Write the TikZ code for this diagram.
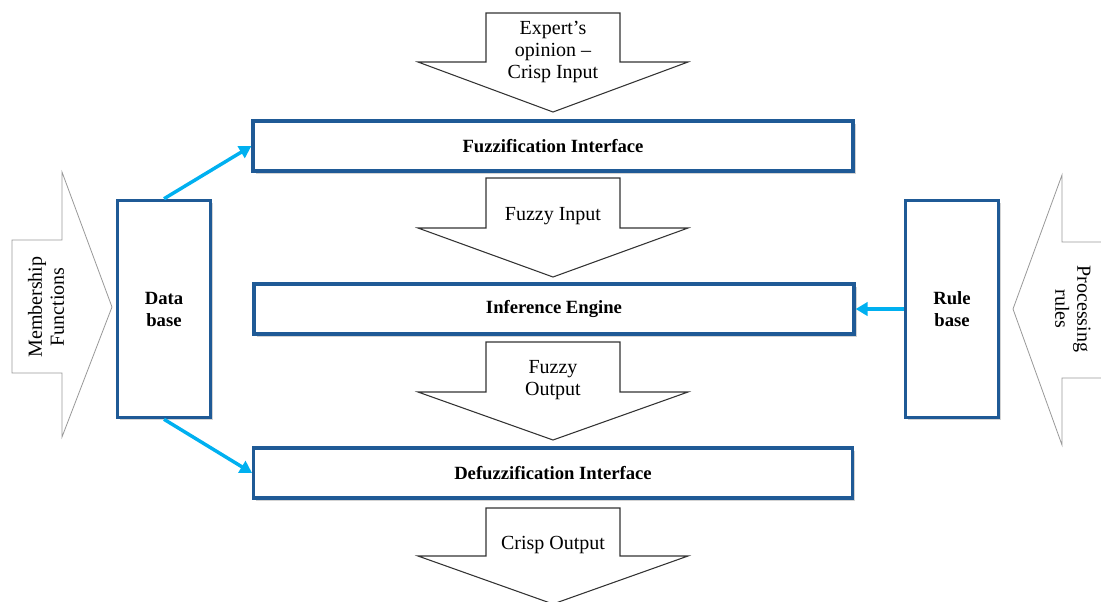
\documentclass[tikz,border=0pt]{standalone}
\usepackage{fontspec}
\setmainfont{Liberation Serif}
\usepackage{tikz}
\usetikzlibrary{arrows.meta,shadows}
\definecolor{boxblue}{RGB}{31,90,150}
\definecolor{linkblue}{RGB}{0,176,240}

\begin{document}
\begin{tikzpicture}[x=0.75pt,y=-0.75pt,
    box/.style={draw=boxblue, line width=2.4pt, fill=white, align=center,
      font=\fontsize{14}{16.5}\selectfont\bfseries,
      drop shadow={shadow xshift=2pt, shadow yshift=-2pt, opacity=0.35}},
    link/.style={linkblue, line width=2.6pt, -{Triangle[length=9pt,width=10pt]}},
    bigarrow/.style={draw=black!80, line width=0.8pt, fill=white},
    sidearrow/.style={draw=black!40, line width=0.6pt, fill=white},
    lbl/.style={align=center, font=\fontsize{15}{16.5}\selectfont}]
   \useasboundingbox (0,0) rectangle (1101,601);

   % hollow down arrows
   \foreach \yt/\ys/\yp in {13/62/112, 178/228/277, 342/392/440, 508/556/604}{
     \draw[bigarrow] (486,\yt) -- (620,\yt) -- (620,\ys) -- (688,\ys) -- (553,\yp)
        -- (418,\ys) -- (486,\ys) -- cycle;
   }
   \node[lbl] (expert) at (553,52) {Expert's\\opinion --\\Crisp Input};
   \node[lbl] (fzin) at (553,216) {Fuzzy Input};
   \node[lbl] (fzout) at (553,380) {Fuzzy\\Output};
   \node[lbl] (crout) at (553,545) {Crisp Output};

   % side arrows
   \draw[sidearrow] (12,240) -- (62,240) -- (62,172) -- (112,307) -- (62,437)
      -- (62,373) -- (12,373) -- cycle;
   \draw[sidearrow] (1105,242) -- (1062,242) -- (1062,175) -- (1013,309) -- (1062,445)
      -- (1062,378) -- (1105,378);
   \node[lbl, rotate=90] (mf) at (46,307) {Membership\\Functions};
   \node[lbl, rotate=-90] (pr) at (1073,309) {Processing\\rules};

   % the blocks
   \node[box, minimum width=450pt, minimum height=37.5pt] (fuzz) at (553,146) {Fuzzification Interface};
   \node[box, minimum width=450pt, minimum height=37.5pt] (inf) at (554,309) {Inference Engine};
   \node[box, minimum width=449pt, minimum height=37.5pt] (defuzz) at (553,473) {Defuzzification Interface};
   \node[box, minimum width=70pt, minimum height=163pt] (db) at (164,309) {Data\\base};
   \node[box, minimum width=70pt, minimum height=163pt] (rb) at (952,309) {Rule\\base};

   \draw[link] (db.north) -- (fuzz.west);
   \draw[link] (db.south) -- (defuzz.west);
   \draw[link] (rb.west) -- (inf.east);
 \end{tikzpicture}
\end{document}
